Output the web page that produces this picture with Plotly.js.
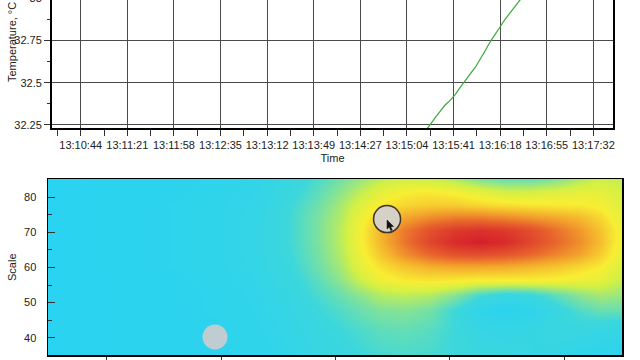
<!DOCTYPE html>
<html><head><meta charset="utf-8">
<script src="https://cdn.plot.ly/plotly-3.0.1.min.js"></script>
<style>
html,body{margin:0;padding:0;width:640px;height:360px;overflow:hidden;background:#fff}
#chart{position:absolute;left:0;top:-50px;width:640px;height:460px}
</style></head>
<body><div id="chart"></div>
<script>
// ---- top panel: temperature vs time (seconds after 13:10:44) ----
const timeSec = [270,274,278,282,286,290,294,298,302,306,310,314,318,322,326,330,334,338,342,346,350,354,358];
const temperature = [32.17,32.213,32.254,32.292,32.33,32.368,32.395,32.43,32.472,32.515,32.552,32.59,32.638,32.69,32.743,32.79,32.838,32.878,32.915,32.955,32.992,33.03,33.07];
const timeTickVals = [0,37.09,74.18,111.27,148.36,185.45,222.55,259.64,296.73,333.82,370.91,408];
const timeTickText = ['13:10:44','13:11:21','13:11:58','13:12:35','13:13:12','13:13:49','13:14:27','13:15:04','13:15:41','13:16:18','13:16:55','13:17:32'];
const tempTickVals = [32.25,32.5,32.75,33,33.25];
const tempTickText = ['32.25','32.5','32.75','33','33.25'];

// ---- bottom panel: heat map ----
const mapX = [9.7,18.8,29.3,39.8,46.8,52,56.4,60.8,64.3,67.8,72.1,76.5,80.9,85.3,89.6,94,98.4,102.8,106.3,110.1];
const mapY = [35.07,42.19,47.90,52.17,56.44,60.43,63.85,67.26,70.68,74.10,77.81,81.51,85.21];
const mapZ = [
 [0.02,0.03,0.04,0.05,0.07,0.10,0.14,0.17,0.20,0.22,0.23,0.22,0.20,0.18,0.16,0.14,0.12,0.08,0.06,0.05],
 [0.02,0.03,0.04,0.05,0.08,0.12,0.16,0.20,0.23,0.26,0.27,0.25,0.20,0.14,0.12,0.14,0.16,0.16,0.14,0.12],
 [0.02,0.03,0.04,0.06,0.09,0.13,0.19,0.24,0.28,0.32,0.33,0.30,0.20,0.08,0.04,0.07,0.16,0.24,0.28,0.28],
 [0.02,0.03,0.04,0.06,0.10,0.15,0.22,0.28,0.34,0.40,0.42,0.40,0.33,0.22,0.16,0.18,0.26,0.34,0.38,0.36],
 [0.02,0.03,0.04,0.07,0.11,0.17,0.25,0.34,0.44,0.52,0.56,0.57,0.56,0.55,0.55,0.55,0.54,0.52,0.50,0.43],
 [0.02,0.03,0.05,0.08,0.12,0.19,0.28,0.38,0.50,0.58,0.64,0.68,0.70,0.70,0.69,0.67,0.64,0.60,0.56,0.47],
 [0.02,0.03,0.05,0.08,0.13,0.20,0.29,0.40,0.52,0.63,0.74,0.82,0.87,0.88,0.86,0.82,0.76,0.70,0.62,0.50],
 [0.02,0.03,0.05,0.08,0.13,0.21,0.30,0.41,0.54,0.66,0.79,0.90,0.97,1.00,0.97,0.90,0.82,0.74,0.65,0.52],
 [0.02,0.03,0.05,0.08,0.13,0.21,0.30,0.41,0.54,0.66,0.78,0.87,0.93,0.95,0.93,0.88,0.80,0.72,0.64,0.52],
 [0.02,0.03,0.05,0.08,0.13,0.21,0.30,0.40,0.52,0.62,0.70,0.75,0.78,0.78,0.76,0.73,0.70,0.66,0.60,0.50],
 [0.02,0.03,0.05,0.08,0.12,0.20,0.28,0.38,0.48,0.56,0.60,0.62,0.62,0.60,0.58,0.57,0.56,0.56,0.54,0.48],
 [0.02,0.03,0.04,0.07,0.11,0.18,0.25,0.34,0.42,0.50,0.55,0.56,0.54,0.50,0.46,0.46,0.48,0.50,0.50,0.46],
 [0.02,0.03,0.04,0.06,0.10,0.16,0.22,0.30,0.36,0.42,0.45,0.44,0.40,0.32,0.28,0.28,0.32,0.40,0.44,0.42]
];
const scaleTickVals = [40,50,60,70,80];
const mapXTickVals = [20,40,60,80,100];
const pointerX = [69.0, 38.9];
const pointerY = [73.8, 40.2];

const FONT = 'Liberation Sans, Arial, Helvetica, sans-serif';

const traces = [
  {type:'scatter', mode:'lines', x:timeSec, y:temperature, xaxis:'x', yaxis:'y',
   line:{color:'#3aa83a', width:1.2}, hoverinfo:'skip'},
  {type:'heatmap', x:mapX, y:mapY, z:mapZ, xaxis:'x2', yaxis:'y2', zsmooth:'best',
   zmin:0, zmax:1, showscale:false, hoverinfo:'skip',
   colorscale:[[0,'#28d2f3'],[0.2,'#3cd7dc'],[0.32,'#80e29a'],[0.45,'#d2f045'],[0.55,'#f8ee33'],
               [0.68,'#f4ae2c'],[0.82,'#e8642c'],[1,'#d51f2b']]},
  {type:'scatter', mode:'markers', x:[pointerX[0]], y:[pointerY[0]], xaxis:'x2', yaxis:'y2',
   marker:{size:27, color:'#d6d1c7', line:{color:'#3c3324', width:1.5}}, hoverinfo:'skip'},
  {type:'scatter', mode:'markers', x:[pointerX[1]], y:[pointerY[1]], xaxis:'x2', yaxis:'y2',
   marker:{size:25, color:'#bfcdd3', line:{width:0}}, hoverinfo:'skip'}
];

const layout = {
  width:640, height:460, showlegend:false,
  margin:{l:48, r:18, t:6, b:55},
  paper_bgcolor:'#ffffff', plot_bgcolor:'#ffffff',
  font:{family:FONT, size:11, color:'#222'},
  xaxis:{domain:[0.007,0.9843], range:[-22.84,423.6], tickvals:timeTickVals, ticktext:timeTickText,
    showgrid:true, gridcolor:'#4a4a4a', gridwidth:1, zeroline:false,
    showline:true, linecolor:'#000', linewidth:2, mirror:true,
    ticks:'outside', ticklen:6, tickcolor:'#333',
    minor:{tick0:18.545, dtick:37.09, ticks:'outside', ticklen:6, tickcolor:'#333', showgrid:false},
    tickfont:{size:11, color:'#222'},
    title:{text:'Time', font:{size:11, color:'#222'}, standoff:4}, anchor:'y'},
  yaxis:{domain:[0.5689,1], range:[32.232,33.249], tickvals:tempTickVals, ticktext:tempTickText,
    showgrid:true, gridcolor:'#4a4a4a', gridwidth:1, zeroline:false,
    showline:true, linecolor:'#000', linewidth:2, mirror:true,
    ticks:'outside', ticklen:6, tickcolor:'#333',
    minor:{tick0:32.125, dtick:0.125, ticks:'outside', ticklen:3, tickcolor:'#333', showgrid:false},
    tickfont:{size:11, color:'#222'}, anchor:'x'},
  xaxis2:{domain:[0,1], range:[9.68,110.11], tickvals:mapXTickVals, anchor:'y2',
    showgrid:false, zeroline:false, showline:true, linecolor:'#000', linewidth:1.5, mirror:true,
    ticks:'outside', ticklen:8, tickcolor:'#333', showticklabels:false},
  yaxis2:{domain:[0,0.4411], range:[35.07,85.21], tickvals:scaleTickVals, anchor:'x2',
    showgrid:false, zeroline:false, showline:true, linecolor:'#000', linewidth:1.5, mirror:true,
    ticks:'inside', ticklen:7, tickcolor:'#333', ticklabelstandoff:8,
    minor:{tick0:45, dtick:10, ticks:'inside', ticklen:4, tickcolor:'#333', showgrid:false},
    tickfont:{size:11, color:'#222'}},
  annotations:[
    {text:'Temperature, °C', textangle:-90, xref:'paper', yref:'paper', x:-0.0627, y:0.7845,
     xanchor:'center', yanchor:'middle', showarrow:false, font:{size:11, color:'#222'}},
    {text:'Scale', textangle:-90, xref:'paper', yref:'paper', x:-0.0627, y:0.2206,
     xanchor:'center', yanchor:'middle', showarrow:false, font:{size:11, color:'#222'}}
  ],
  shapes:[
    {type:'path', xref:'x2', yref:'y2', xsizemode:'pixel', ysizemode:'pixel',
     xanchor:pointerX[0], yanchor:pointerY[0],
     path:'M0,-1 L0,-10 L2.2,-8 L3.8,-11.5 L5.2,-10.9 L3.7,-7.6 L6.5,-7.4 Z',
     fillcolor:'#111', line:{color:'#111', width:0.5}}
  ]
};

Plotly.newPlot('chart', traces, layout, {staticPlot:true, displayModeBar:false});
</script>
</body></html>
